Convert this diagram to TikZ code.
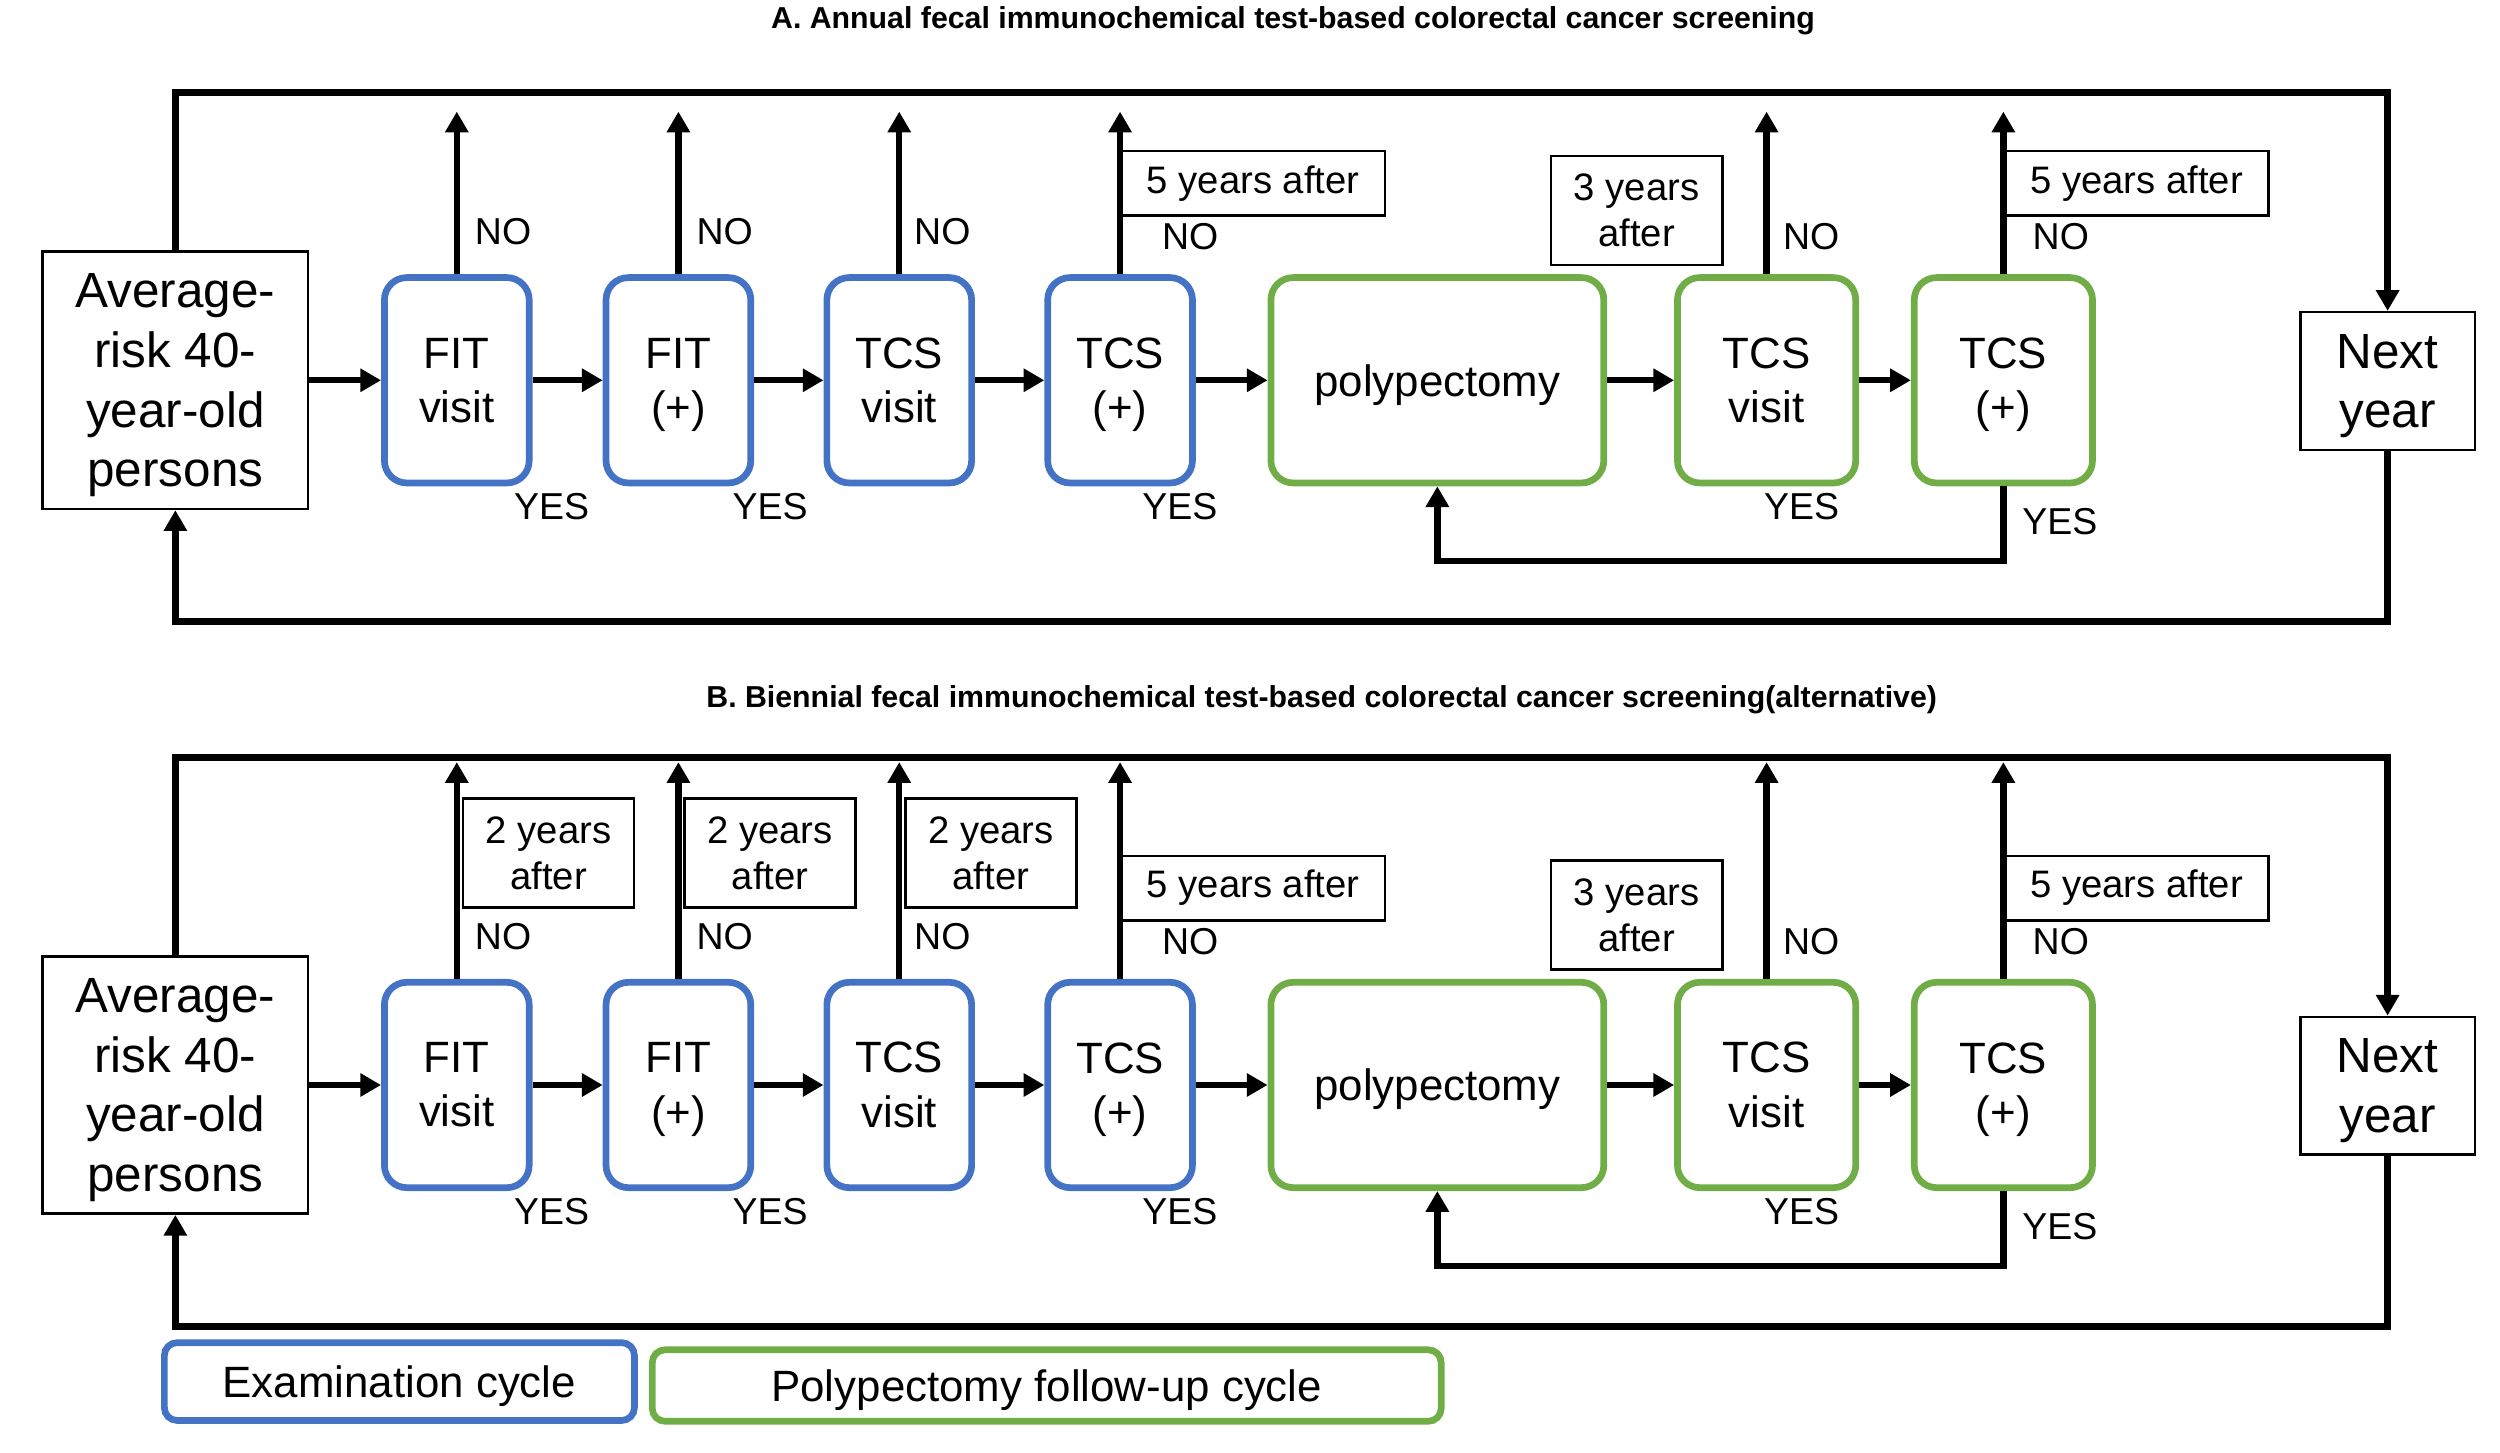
\documentclass[tikz,border=0pt]{standalone}
\usepackage{fontspec}
\setmainfont{Liberation Sans}
\usetikzlibrary{arrows.meta, positioning, calc}
\definecolor{scblue}{HTML}{4472C4}
\definecolor{scgreen}{HTML}{70AD47}

\begin{document}
\begin{tikzpicture}[x=0.5pt, y=-0.5pt, line join=miter,
    exam/.style={draw=scblue, line width=2.1pt, rounded corners=7pt, align=center, inner sep=0pt,
                 minimum width=45.4pt, minimum height=64.4pt, font=\fontsize{13.75}{17}\selectfont},
    follow/.style={exam, draw=scgreen},
    plain/.style={draw, line width=0.8pt, align=center, inner sep=0pt},
    big/.style={plain, font=\fontsize{15.5}{18.75}\selectfont},
    yrs/.style={plain, font=\fontsize{12}{14.5}\selectfont},
    lbl/.style={font=\fontsize{11.75}{14}\selectfont, inner sep=0pt},
    arr/.style={line width=2pt, -{Triangle[length=6.5pt, width=7pt]}},
    loop/.style={line width=2.2pt}]
  \useasboundingbox (0,0) rectangle (1568,911);
  \foreach \pn/\dy/\ty/\ft/\tipy/\tx/\ttl in
      {A/0/13/58/70/811/{A. Annual fecal immunochemical test-based colorectal cancer screening},
       B/442/-3/33/36/829/{B. Biennial fecal immunochemical test-based colorectal cancer screening(alternative)}} {
    \begin{scope}[shift={(0,\dy)}]
      \node[font=\bfseries\fontsize{9.5}{11}\selectfont] (title\pn) at (\tx,\ty) {\ttl};
      \coordinate (top\pn) at (0,\ft);
      \coordinate (tip\pn) at (0,\tipy);
      \coordinate (bot\pn) at (0,390);
      \coordinate (back\pn) at (0,352);
      \coordinate (yr\pn) at (0,115);
      % boxes of one row
      \node[big, minimum width=83.2pt, minimum height=80.7pt] (avg\pn) at (110,238.5) {Average-\\risk 40-\\year-old\\\smash{persons}};
      \node[exam] (fit\pn) at (286.5,238.5) {FIT\\visit};
      \node[exam] (fitp\pn) at (425.5,238.5) {FIT\\\smash{(+)}};
      \node[exam] (tcs\pn) at (564,238.5) {TCS\\visit};
      \node[exam] (tcsp\pn) at (702.5,238.5) {TCS\\\smash{(+)}};
      \node[follow, minimum width=104.4pt, text depth=0pt] (poly\pn) at (901.5,238.5) {polypectomy};
      \node[follow, minimum width=55.9pt] (gtcs\pn) at (1108,238.5) {TCS\\visit};
      \node[follow, minimum width=55.9pt] (gtcsp\pn) at (1256.5,238.5) {TCS\\\smash{(+)}};
      \node[big, minimum width=54.7pt, minimum height=43.2pt] (next\pn) at (1497.5,239) {Next\\\smash{year}};
      \foreach \src/\dst in {avg/fit, fit/fitp, fitp/tcs, tcs/tcsp, tcsp/poly, poly/gtcs, gtcs/gtcsp}
        \draw[arr] (\src\pn) -- (\dst\pn);
      % NO exits
      \foreach \bx/\nx/\ny in {fit/5.5pt/9pt, fitp/5.5pt/9pt, tcs/4.5pt/9pt,
                               tcsp/13pt/7.5pt, gtcs/5pt/7.5pt, gtcsp/9pt/7.5pt} {
        \draw[arr] (\bx\pn.north) -- (\bx\pn.north |- tip\pn);
        \node[lbl, above right=\ny and \nx of \bx\pn.north] (no\bx\pn) {NO};
      }
      \foreach \bx/\lx/\ly in {fit/346/318, fitp/483/318, tcsp/740/318, gtcs/1130/318, gtcsp/1292/327}
        \node[lbl] (yes\bx\pn) at (\lx,\ly) {YES};
      \node[yrs, anchor=west, minimum width=82.7pt, minimum height=20.2pt] (five\pn) at (tcsp\pn.north |- yr\pn) {5 years after};
      \node[yrs, anchor=west, minimum width=82.7pt, minimum height=20.2pt] (gfive\pn) at (gtcsp\pn.north |- yr\pn) {5 years after};
      \node[yrs, minimum width=53.7pt, minimum height=34.2pt] (three\pn) at (1026.5,132) {3 years\\after};
      % loops
      \draw[arr] (gtcsp\pn.south) |- (poly\pn.south |- back\pn) -- (poly\pn.south);
      \draw[arr, loop] (avg\pn.north) |- (next\pn.north |- top\pn) -- (next\pn.north);
      \draw[arr, loop] (next\pn.south) |- (avg\pn.south |- bot\pn) -- (avg\pn.south);
    \end{scope}}
  \coordinate (two) at (0,535);
  \foreach \bx in {fitB, fitpB, tcsB}
    \node[yrs, anchor=west, xshift=1.5pt, minimum width=53.7pt, minimum height=34.2pt] (two\bx) at (\bx.north |- two) {2 years\\after};
  % legend
  \node[exam, rounded corners=4pt, text depth=0pt, minimum width=147.4pt, minimum height=24.4pt] (legexam) at (250.5,866.5) {Examination cycle};
  \node[follow, rounded corners=4pt, text depth=0pt, minimum width=247.4pt, minimum height=22.4pt] (legfollow) at (656.5,869) {Polypectomy follow-up cycle};
\end{tikzpicture}
\end{document}
